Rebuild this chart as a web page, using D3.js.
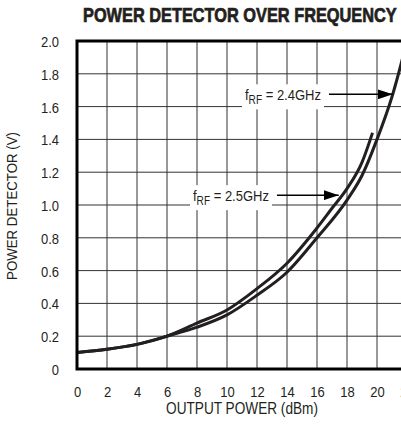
<!DOCTYPE html>
<html>
<head>
<meta charset="utf-8">
<script src="https://cdn.jsdelivr.net/npm/d3@7"></script>
<style>
  body { margin: 0; background: #fff; }
  svg text { font-family: "Liberation Sans", Arial, sans-serif; fill: #231f20; }
</style>
</head>
<body>
<svg width="401" height="433"></svg>
<script>
// output power (dBm) vs detector voltage (V)
const power24 = [0, 2, 4, 6, 8, 10, 12, 14, 16, 18, 19, 20, 21, 22];
const volts24 = [0.10, 0.12, 0.15, 0.20, 0.255, 0.33, 0.45, 0.59, 0.80, 1.03, 1.18, 1.40, 1.66, 2.0];
const power25 = [0, 2, 4, 6, 8, 10, 12, 14, 16, 17, 18, 19, 19.7];
const volts25 = [0.10, 0.12, 0.15, 0.20, 0.28, 0.36, 0.49, 0.645, 0.86, 0.98, 1.10, 1.26, 1.44];
const xTicks = [0, 2, 4, 6, 8, 10, 12, 14, 16, 18, 20, 22];
const yTicks = [0, 0.2, 0.4, 0.6, 0.8, 1.0, 1.2, 1.4, 1.6, 1.8, 2.0];

const svg = d3.select("svg");
const x = d3.scaleLinear().domain([0, 22]).range([77, 407]);
const y = d3.scaleLinear().domain([0, 2]).range([369, 41]);
const ink = "#231f20";
const narrow = 0.84; // squeeze to mimic a condensed face

// text squeezed horizontally to a given width, anchored at (ax, ay)
function squeezed(ax, ay, str, size, width, anchor, rotate) {
    const g = svg.append("g");
    const t = g.append("text").attr("text-anchor", anchor).style("font-size", size + "px").text(str);
    const k = width / t.node().getComputedTextLength();
    g.attr("transform", `translate(${ax},${ay})` + (rotate ? ` rotate(${rotate})` : "") + ` scale(${k},1)`);
    return t;
}

// title
squeezed(83, 21.5, "POWER DETECTOR OVER FREQUENCY", 20, 314, "start")
    .style("font-weight", "bold").attr("stroke", ink).attr("stroke-width", 0.7);

// grid
svg.append("g").selectAll("line").data(xTicks.slice(1)).join("line")
    .attr("x1", d => x(d)).attr("x2", d => x(d))
    .attr("y1", y(2)).attr("y2", y(0))
    .attr("stroke", "#333").attr("stroke-width", 1);
svg.append("g").selectAll("line").data(yTicks.slice(1, -1)).join("line")
    .attr("x1", x(0)).attr("x2", x(22))
    .attr("y1", d => y(d)).attr("y2", d => y(d))
    .attr("stroke", "#333").attr("stroke-width", 1);

// tick labels
const xAxis = d3.axisBottom(x).tickValues(xTicks).tickSize(0).tickPadding(0).tickFormat(d3.format("d"));
svg.append("g").attr("transform", `translate(0,${y(0) + 17})`).call(xAxis)
    .call(g => g.select(".domain").remove())
    .selectAll("text").style("font-size", "15.5px").attr("dy", "0.71em")
    .attr("fill", ink).attr("transform", `scale(${narrow},1)`);

const yAxis = d3.axisLeft(y).tickValues(yTicks).tickSize(0).tickPadding(0)
    .tickFormat(d => d === 0 ? "0" : d3.format(".1f")(d));
svg.append("g").attr("transform", `translate(59,0)`).call(yAxis)
    .call(g => g.select(".domain").remove())
    .selectAll("text").style("font-size", "15.5px").attr("dy", "0.36em")
    .attr("fill", ink).attr("transform", `scale(${narrow},1)`);

// axis titles
squeezed(x(11), 414, "OUTPUT POWER (dBm)", 16, 152, "middle");
squeezed(17, 206, "POWER DETECTOR (V)", 15, 148, "middle", -90);

// curves
const line = d3.line().x(d => x(d[0])).y(d => y(d[1])).curve(d3.curveMonotoneX);
svg.append("defs").append("clipPath").attr("id", "plot")
    .append("rect").attr("x", x(0)).attr("y", y(2)).attr("width", x(22) - x(0)).attr("height", y(0) - y(2));
const curves = svg.append("g").attr("clip-path", "url(#plot)");
curves.append("path").datum(d3.zip(power24, volts24))
    .attr("d", line).attr("fill", "none").attr("stroke", ink).attr("stroke-width", 3);
curves.append("path").datum(d3.zip(power25, volts25))
    .attr("d", line).attr("fill", "none").attr("stroke", ink).attr("stroke-width", 3);

// frame
svg.append("path")
    .attr("d", `M${x(22)},${y(2)}H${x(0)}V${y(0)}H${x(22)}`)
    .attr("fill", "none").attr("stroke", "#000").attr("stroke-width", 3);

// annotations with arrows
svg.append("defs").append("marker")
    .attr("id", "head").attr("viewBox", "0 0 15 10")
    .attr("refX", 15).attr("refY", 5)
    .attr("markerWidth", 15).attr("markerHeight", 10)
    .attr("markerUnits", "userSpaceOnUse").attr("orient", "auto")
    .append("path").attr("d", "M0,0L15,5L0,10Z").attr("fill", "#000");

function note(label, tx, tipPower, tipVolts) {
    const g = svg.append("g");
    const bg = g.append("rect").attr("fill", "#fff");
    const tg = g.append("g").attr("transform", `translate(${tx},${y(tipVolts) + 6}) scale(${narrow},1)`);
    const t = tg.append("text").style("font-size", "15.5px");
    t.append("tspan").text("f");
    t.append("tspan").attr("dy", 4).style("font-size", "12px").text("RF");
    t.append("tspan").attr("dy", -4).text(" = " + label);
    const w = t.node().getComputedTextLength() * narrow;
    bg.attr("x", tx - 3).attr("y", y(tipVolts) - 10).attr("width", w + 6).attr("height", 25);
    g.append("line")
        .attr("x1", tx + w + 8).attr("x2", x(tipPower))
        .attr("y1", y(tipVolts)).attr("y2", y(tipVolts))
        .attr("stroke", "#000").attr("stroke-width", 1.5)
        .attr("marker-end", "url(#head)");
}
note("2.4GHz", 245, 21.05, 1.675);
note("2.5GHz", 193, 17.45, 1.06);
</script>
</body>
</html>
